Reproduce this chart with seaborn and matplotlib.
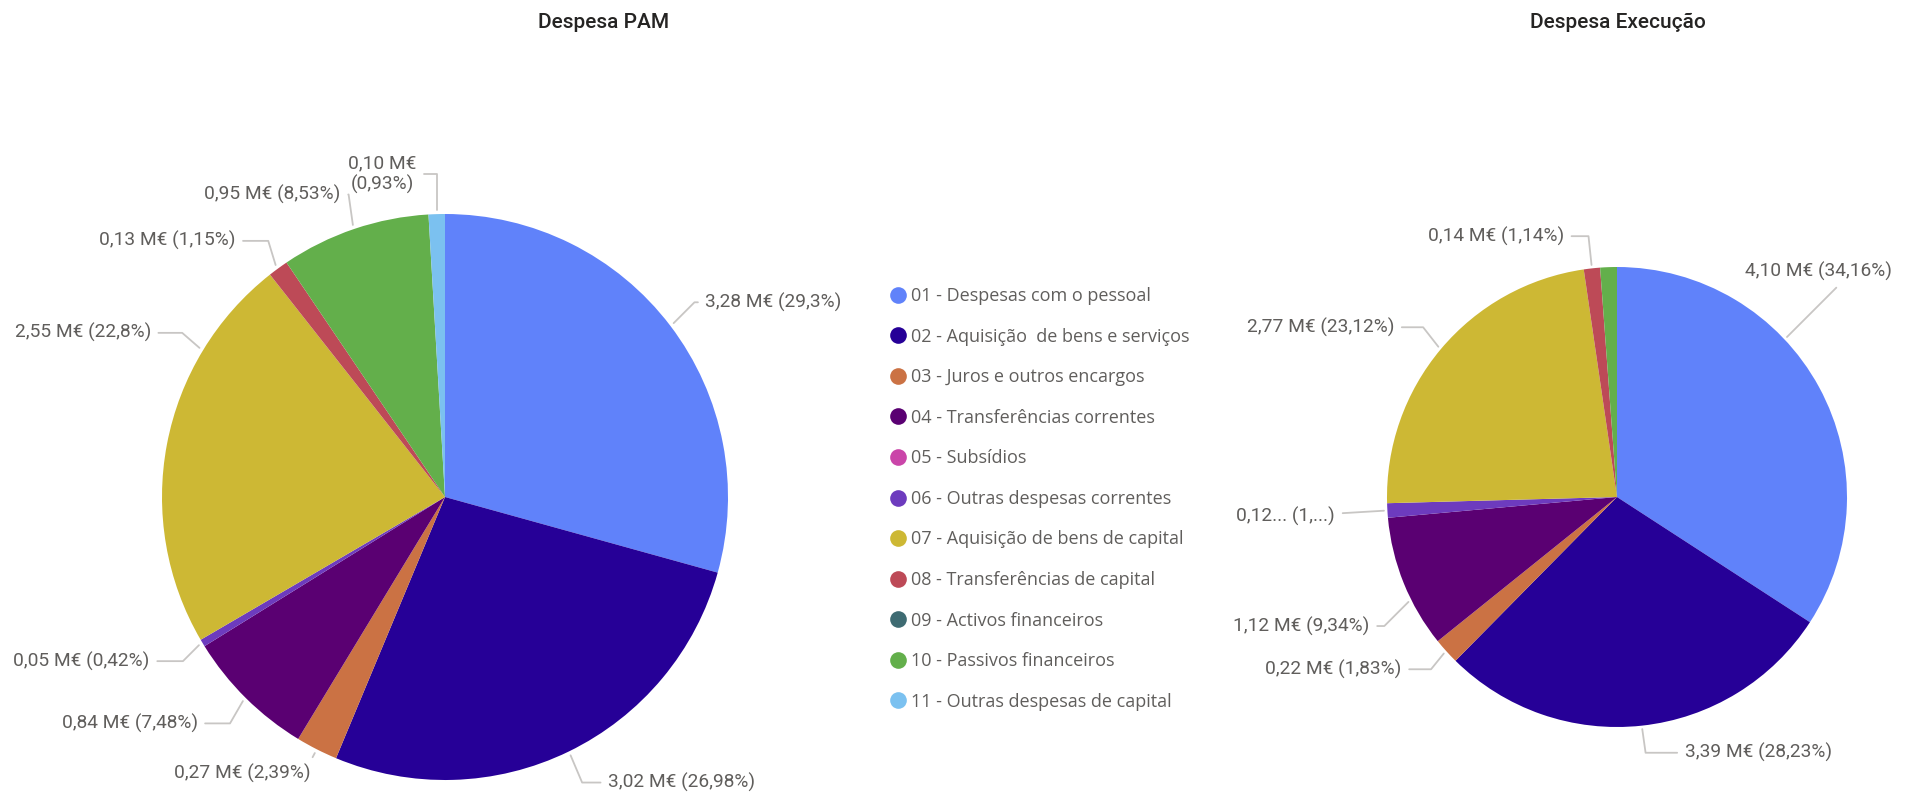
import numpy as np
import matplotlib
matplotlib.use("Agg")
import matplotlib.pyplot as plt
import seaborn as sns
from matplotlib.lines import Line2D

# categorias e cores (Power BI)
categorias = ["01 - Despesas com o pessoal", "02 - Aquisição  de bens e serviços",
              "03 - Juros e outros encargos", "04 - Transferências correntes",
              "05 - Subsídios", "06 - Outras despesas correntes",
              "07 - Aquisição de bens de capital", "08 - Transferências de capital",
              "09 - Activos financeiros", "10 - Passivos financeiros",
              "11 - Outras despesas de capital"]
cores = ["#6082FA", "#260097", "#CB7244", "#5A0072", "#CA45A9", "#6D3BBE",
         "#CDB834", "#BD4A57", "#3E6B72", "#63AF4B", "#7BC1F0"]

# Despesa PAM (M€ e %)
pam_valor = [3.28, 3.02, 0.27, 0.84, 0, 0.05, 2.55, 0.13, 0, 0.95, 0.10]
pam_pct = [29.30, 26.98, 2.39, 7.48, 0, 0.42, 22.80, 1.15, 0, 8.53, 0.93]

# Despesa Execução (M€ e %)
exe_valor = [4.10, 3.39, 0.22, 1.12, 0, 0.12, 2.77, 0.14, 0, 0.14, 0]
exe_pct = [34.16, 28.23, 1.83, 9.34, 0, 1.01, 23.12, 1.14, 0, 1.17, 0]

sns.set_theme(style="white")
plt.rcParams['font.family'] = ['Roboto', 'DejaVu Sans']

W, H = 1925, 796
fig = plt.figure(figsize=(W / 100, H / 100), dpi=100)

cinza_txt = "#605E5C"
cinza_linha = "#C8C6C4"


def fmt_pct(p):
    s = f"{p:.2f}".rstrip("0").rstrip(".")
    return s.replace(".", ",")


def rotulo(v, p):
    return f"{v:.2f}".replace(".", ",") + " M€ (" + fmt_pct(p) + "%)"


def desenha(cx, cy, r, x0, x1, pct, valor, layout, textos={}):
    ax = fig.add_axes([x0 / W, 0, (x1 - x0) / W, 1])
    idx = [i for i, p in enumerate(pct) if p > 0]
    wedges, _ = ax.pie([pct[i] for i in idx], colors=[cores[i] for i in idx],
                       startangle=90, counterclock=False,
                       wedgeprops=dict(linewidth=0, antialiased=True))
    for w, i in zip(wedges, idx):
        if i not in layout:
            continue
        tx, ty, ha, f, lead = layout[i]
        ang = w.theta2 - f * (w.theta2 - w.theta1)
        x, y = np.cos(np.radians(ang)), np.sin(np.radians(ang))
        txt = textos.get(i, rotulo(valor[i], pct[i]))
        cs = "arc3" if lead is None else f"angle,angleA=0,angleB={lead}"
        ax.annotate(txt, xy=(x * 1.015, y * 1.015), xytext=(tx, ty),
                    ha=ha, va="center", ma="center", fontsize=13.8, color=cinza_txt,
                    arrowprops=dict(arrowstyle="-", color=cinza_linha, lw=1.3,
                                    shrinkA=3, shrinkB=0, connectionstyle=cs))
    ax.set_aspect("auto")
    ax.set_xlim((x0 - cx) / r, (x1 - cx) / r)
    ax.set_ylim(-(H - cy) / r, cy / r)
    ax.axis("off")
    return ax


# (x texto, y texto, alinhamento, posição na fatia, ângulo da guia)
pam_layout = {0: (0.92, 0.688, "left", 0.5, 45),
              1: (0.576, -1.009, "left", 0.5, -67),
              2: (-0.476, -0.978, "right", 0.5, 62),
              3: (-0.874, -0.80, "right", 0.5, 60),
              5: (-1.043, -0.58, "right", 0.5, 45),
              6: (-1.039, 0.58, "right", 0.75, 139),
              7: (-0.74, 0.905, "right", 0.5, 107),
              9: (-0.368, 1.069, "right", 0.5, 98),
              10: (-0.10, 1.14, "right", 0.5, 90)}
desenha(445, 497, 283, 0, 890, pam_pct, pam_valor, pam_layout,
        textos={10: "0,10 M€\n(0,93%)"})

exe_layout = {0: (0.556, 0.979, "left", 0.38, 45),
              1: (0.294, -1.112, "left", 0.5, -82),
              2: (-0.936, -0.749, "right", 0.5, 51),
              3: (-1.075, -0.561, "right", 0.36, 45),
              5: (-1.225, -0.085, "right", 0.5, None),
              6: (-0.968, 0.738, "right", 0.5, 128),
              7: (-0.23, 1.134, "right", 0.5, 96)}
desenha(1617, 497, 230, 1250, 1925, exe_pct, exe_valor, exe_layout,
        textos={5: "0,12... (1,...)"})

# títulos
fig.text(604 / W, 1 - 22 / H, "Despesa PAM", ha="center", va="center",
         fontsize=15, color="#252423", fontweight="medium")
fig.text(1618 / W, 1 - 22 / H, "Despesa Execução", ha="center", va="center",
         fontsize=15, color="#252423", fontweight="medium")

# legenda
handles = [Line2D([], [], marker="o", ls="", markersize=12, markeredgewidth=0,
                  color=c) for c in cores]
fig.legend(handles, categorias, loc="upper left", bbox_to_anchor=(891 / W, 1 - 287 / H),
           frameon=False, handlelength=0.8, handletextpad=0.3, labelspacing=1.25,
           borderpad=0, borderaxespad=0,
           prop={"family": "Open Sans", "size": 13}, labelcolor=cinza_txt)

fig.savefig("out.png", dpi=100)
